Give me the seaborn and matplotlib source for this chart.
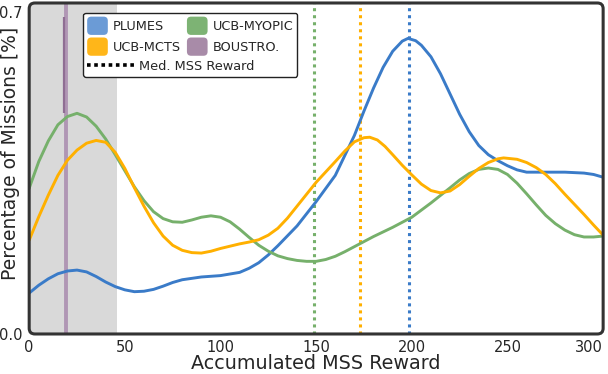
import numpy as np
import pandas as pd
import seaborn as sns
import matplotlib
matplotlib.use("Agg")
import matplotlib.pyplot as plt
from matplotlib.patches import Patch, FancyBboxPatch
from matplotlib.lines import Line2D
from matplotlib.legend_handler import HandlerPatch

# curves (reward, percentage of missions)
plumes_x = [0, 5, 10, 15, 20, 25, 30, 35, 40, 45, 50, 55, 60, 65, 70, 75, 80, 90, 100, 110,
            115, 120, 125, 130, 140, 150, 160, 170, 175, 180, 185, 190, 195, 198, 202, 205,
            210, 215, 220, 225, 230, 235, 240, 245, 250, 255, 260, 270, 280, 290, 295, 300]
plumes_y = [0.089, 0.106, 0.120, 0.131, 0.137, 0.139, 0.135, 0.125, 0.113, 0.103, 0.096,
            0.092, 0.093, 0.097, 0.104, 0.112, 0.118, 0.124, 0.127, 0.134, 0.143, 0.155,
            0.172, 0.192, 0.235, 0.288, 0.345, 0.432, 0.485, 0.535, 0.580, 0.615, 0.637,
            0.643, 0.638, 0.628, 0.603, 0.566, 0.522, 0.478, 0.440, 0.410, 0.390, 0.377,
            0.366, 0.357, 0.352, 0.352, 0.352, 0.350, 0.347, 0.341]

mcts_x = [0, 5, 10, 15, 20, 25, 30, 35, 40, 45, 50, 55, 60, 65, 70, 75, 80, 85, 90, 95, 100,
          110, 115, 120, 125, 130, 135, 140, 150, 160, 165, 170, 175, 178, 182, 186, 190, 195,
          200, 205, 210, 215, 220, 225, 230, 235, 240, 245, 248, 255, 260, 265, 270, 275, 280,
          285, 290, 295, 300]
mcts_y = [0.204, 0.255, 0.302, 0.345, 0.378, 0.400, 0.415, 0.421, 0.417, 0.395, 0.360, 0.318,
          0.278, 0.242, 0.213, 0.193, 0.182, 0.177, 0.176, 0.180, 0.186, 0.196, 0.200, 0.205,
          0.215, 0.230, 0.252, 0.278, 0.330, 0.375, 0.398, 0.418, 0.427, 0.428, 0.422, 0.408,
          0.390, 0.367, 0.346, 0.326, 0.312, 0.307, 0.311, 0.325, 0.343, 0.360, 0.373, 0.381,
          0.383, 0.380, 0.373, 0.362, 0.347, 0.327, 0.304, 0.282, 0.260, 0.237, 0.215]

myopic_x = [0, 5, 10, 15, 20, 25, 30, 35, 40, 45, 50, 55, 60, 65, 70, 75, 80, 85, 90, 95, 100,
            105, 110, 115, 120, 125, 130, 135, 140, 145, 150, 155, 160, 165, 170, 180, 190, 200,
            210, 220, 225, 230, 235, 240, 245, 250, 255, 260, 265, 270, 275, 280, 285, 290,
            295, 300]
myopic_y = [0.317, 0.375, 0.420, 0.455, 0.473, 0.480, 0.472, 0.452, 0.424, 0.390, 0.355,
            0.320, 0.290, 0.266, 0.251, 0.244, 0.243, 0.248, 0.254, 0.257, 0.254, 0.244,
            0.228, 0.210, 0.193, 0.180, 0.170, 0.164, 0.160, 0.158, 0.158, 0.162, 0.169,
            0.179, 0.190, 0.212, 0.232, 0.254, 0.285, 0.318, 0.335, 0.349, 0.358, 0.361,
            0.358, 0.347, 0.328, 0.305, 0.281, 0.258, 0.240, 0.226, 0.216, 0.211, 0.211, 0.213]

# boustrophedon is a spike around 19.5 that runs off the top of the axes
boustro_x = 19.5
boustro_band = (0.48, 0.69)

methods = ["PLUMES", "UCB-MYOPIC", "UCB-MCTS", "BOUSTRO."]
medians = [198.5, 149, 173, 19.5]
colors = ["#3a7bc8", "#76b06b", "#ffb000", "#a98bae"]
legend_colors = ["#6b9bd6", "#7db374", "#ffb619", "#a88ba8"]

shade_end = 46

sns.set_style("white")
plt.rcParams['font.family'] = ['DejaVu Sans']

fig = plt.figure(figsize=(6.08, 3.74), dpi=100)
ax = fig.add_axes([0.048, 0.107, 0.944, 0.885])

ax.axvspan(0, shade_end, color="#d9d9d9", zorder=0, lw=0)

curves = {"PLUMES": (plumes_x, plumes_y),
          "UCB-MYOPIC": (myopic_x, myopic_y),
          "UCB-MCTS": (mcts_x, mcts_y)}
for name, col in zip(methods, colors):
    if name in curves:
        xs, ys = curves[name]
        df = pd.DataFrame({"reward": xs, "pct": ys})
        sns.lineplot(data=df, x="reward", y="pct", color=col, lw=2.1, ax=ax, zorder=3)

ax.axvline(boustro_x, color=colors[3], lw=2.8, alpha=0.85, zorder=2)
ax.vlines(boustro_x - 1.2, boustro_band[0], boustro_band[1], color="#8f6e93", lw=1.6, zorder=2)

for name, col, m in zip(methods[:3], colors[:3], medians[:3]):
    ax.axvline(m, color=col, ls=(0, (1, 1.3)), lw=2.2, zorder=2)

ax.set_xlim(0, 300)
ax.set_ylim(0, 0.72)
ax.set_yticks([0.0, 0.7])
ax.set_yticklabels(["0.0", "0.7"])
ax.set_xticks([0, 50, 100, 150, 200, 250, 300])
ax.tick_params(length=0, labelsize=10.5)
ax.tick_params(axis="y", pad=5)
ax.tick_params(axis="x", pad=4)
ax.get_xticklabels()[-1].set_horizontalalignment("right")
ax.set_xlabel("Accumulated MSS Reward", fontsize=13.8, labelpad=-0.5)
ax.set_ylabel("Percentage of Missions [%]", fontsize=13.5)
ax.yaxis.set_label_coords(-0.016, 0.545)

for s in ax.spines.values():
    s.set_visible(False)
frame = FancyBboxPatch((0, 0), 1, 1, boxstyle="round,pad=0,rounding_size=0.01",
                       mutation_aspect=574 / 331, transform=ax.transAxes, fill=False,
                       ec="#333333", lw=2.2, clip_on=False, zorder=5)
ax.add_patch(frame)


class RoundPatchHandler(HandlerPatch):
    def create_artists(self, legend, orig_handle, xdescent, ydescent, width, height,
                       fontsize, trans):
        p = FancyBboxPatch((-xdescent, -ydescent), width, height,
                           boxstyle="round,pad=0,rounding_size=3",
                           fc=orig_handle.get_facecolor(), ec="none", transform=trans)
        return [p]


# legend: two columns of patches plus a row for the median line
order = [0, 2, 1, 3]
patches = [Patch(color=legend_colors[i], label=methods[i]) for i in order]
med_line = Line2D([], [], color="black", ls=(0, (1, 1)), lw=2.6)

leg2 = ax.legend([med_line], ["Med. MSS Reward"], handlelength=3.6, fontsize=9.3,
                 handletextpad=0.4)
leg = ax.legend(handles=patches, ncol=2, loc="upper left", bbox_to_anchor=(0.083, 0.99),
                fontsize=9.3, handlelength=1.6, handleheight=1.8, handletextpad=0.4,
                columnspacing=0.45, labelspacing=0.2, borderpad=0.3, alignment="left",
                handler_map={Patch: RoundPatchHandler()}, fancybox=True, framealpha=1,
                edgecolor="#222222")
leg._legend_box._children.append(leg2._legend_handle_box)
leg._legend_box.sep = 3
leg.get_frame().set_linewidth(1.0)
leg.set_zorder(6)

fig.savefig("out.png", dpi=100)
